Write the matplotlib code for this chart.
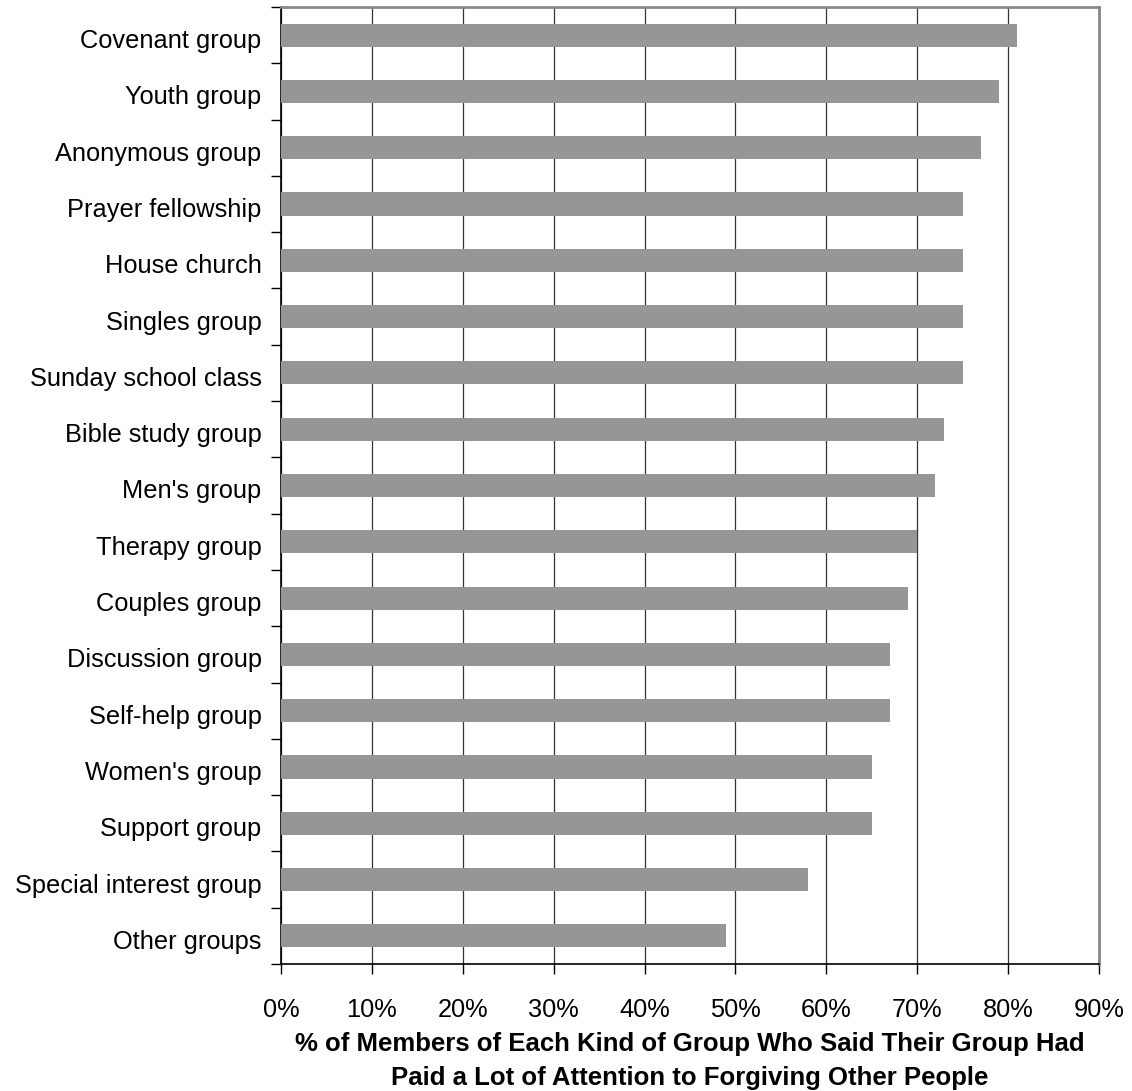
import matplotlib.pyplot as plt
import matplotlib.transforms as mtransforms
import numpy as np

plt.rcParams['font.family'] = ['Liberation Sans', 'DejaVu Sans']

groups = ["Covenant group", "Youth group", "Anonymous group", "Prayer fellowship",
          "House church", "Singles group", "Sunday school class", "Bible study group",
          "Men's group", "Therapy group", "Couples group", "Discussion group",
          "Self-help group", "Women's group", "Support group",
          "Special interest group", "Other groups"]
pct = [81, 79, 77, 75, 75, 75, 75, 73, 72, 70, 69, 67, 67, 65, 65, 58, 49]
xticks = [0, 10, 20, 30, 40, 50, 60, 70, 80, 90]
xlabel = ("% of Members of Each Kind of Group Who Said Their Group Had\n"
          "Paid a Lot of Attention to Forgiving Other People")

fig = plt.figure(figsize=(11.32, 10.91), dpi=100)
ax = fig.add_axes([0.2482, 0.1164, 0.9708 - 0.2482, 0.9936 - 0.1164])

n = len(groups)
y = np.arange(n)[::-1]
ax.barh(y, pct, height=0.41, color='#969696', zorder=3)

ax.set_xlim(0, 90)
ax.set_ylim(-0.5, n - 0.5)
ax.set_xticks(xticks)
ax.set_xticklabels([f"{t}%" for t in xticks], fontsize=18.3)
ax.xaxis.grid(True, color='#333333', linewidth=0.9, zorder=0)

# boundaries get the tick marks, bar centres get the labels
ax.set_yticks(np.arange(n + 1) - 0.5)
ax.set_yticklabels([])
ax.set_yticks(y, minor=True)
ax.set_yticklabels(groups, minor=True, fontsize=18.3)
ax.tick_params(axis='y', which='major', length=7, width=1, direction='out')
ax.tick_params(axis='y', which='minor', length=0, pad=14)
ax.tick_params(axis='x', length=7, width=1, direction='out', pad=17.5)

# nudge the group names a little below the bar centres
nudge = mtransforms.ScaledTranslation(0, -2.5 / 72, fig.dpi_scale_trans)
for lab in ax.get_yticklabels(minor=True):
    lab.set_transform(lab.get_transform() + nudge)

for side in ('top', 'right'):
    ax.spines[side].set_color('#888888')
    ax.spines[side].set_linewidth(2)
for side in ('left', 'bottom'):
    ax.spines[side].set_color('black')
    ax.spines[side].set_linewidth(1.2)

ax.set_xlabel(xlabel, fontsize=18.5, fontweight='bold', labelpad=7, linespacing=1.55)

fig.savefig('out.png', dpi=100)
